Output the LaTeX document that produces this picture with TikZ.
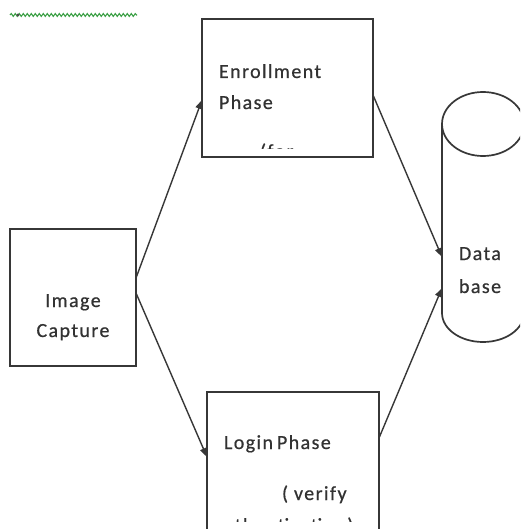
\documentclass[tikz,border=0pt]{standalone}
\usepackage{fontspec}
\newfontfamily\carl[LetterSpace=7,FakeBold=0.6]{Carlito}
\usetikzlibrary{arrows.meta,calc,decorations.pathmorphing}
\definecolor{linegray}{RGB}{55,55,55}
\definecolor{textgray}{RGB}{50,50,50}
\definecolor{squig}{RGB}{60,160,70}
\tikzset{
  boxnode/.style={draw=linegray, line width=1.7pt, rectangle, inner sep=0pt, outer sep=0pt},
  cylline/.style={draw=linegray, line width=1.7pt},
  arr/.style={draw=linegray, line width=1.4pt, -{Triangle[length=9pt,width=7pt]}},
  txt/.style={font=\carl\fontsize{20}{24}\selectfont, text=textgray, inner sep=0pt, outer sep=0pt},
}
\begin{document}
\begin{tikzpicture}[x=1pt,y=-1pt]
\useasboundingbox (0,0) rectangle (520,529);
\clip (0,0) rectangle (520,529);
\fill[white] (0,0) rectangle (520,529);
% spelling squiggle
\draw[squig, line width=1.1pt, decorate, decoration={snake, amplitude=1.4pt, segment length=4pt}] (10,15) -- (137,15);
\fill[black!70] (18,15) circle[radius=1.6pt];
% boxes
\node[boxnode, minimum width=126pt, minimum height=137pt] (cap) at (73,297.5) {};
\node[boxnode, minimum width=171pt, minimum height=138pt] (enr) at (287.5,88) {};
\node[boxnode, minimum width=172pt, minimum height=150pt] (log) at (293,467) {};
% database cylinder
\node[rectangle, inner sep=0pt, outer sep=0pt, minimum width=82pt, minimum height=189pt] (db) at (483,218.5) {};
\draw[cylline] (db.north west) -- (db.south west);
\draw[cylline] (db.north east) -- (db.south east);
\draw[cylline] (db.north) ellipse [x radius=41pt, y radius=32pt];
\draw[cylline] (db.south west) arc[start angle=180, end angle=360, x radius=41pt, y radius=29pt];
% texts
\node[txt, anchor=base] (t1) at (73,307) {Image};
\node[txt, anchor=base] (t2) at (73,337) {Capture};
\node[txt, anchor=base west] (t3) at (219,78) {Enrollment};
\node[txt, anchor=base west] (t4) at (219,109) {Phase};
\node[txt, anchor=base west] (t5) at (459,260) {Data};
\node[txt, anchor=base west] (t6) at (459,293) {base};
\node[txt, anchor=base west] (t7) at (224,449) {Login\kern-2pt\ Phase};
\node[txt, anchor=base west] (t8) at (282,500) {( verify};
\begin{scope}
\clip (204,20) rectangle (372,149);
\node[txt, anchor=base west] (t9) at (260,158) {(for};
\end{scope}
\begin{scope}
\clip (208,393) rectangle (378,521);
\node[txt, anchor=base west] (t10) at (212,532) {authentication)};
\end{scope}
% connectors
\draw[arr] ([yshift=-49pt]cap.north east) -- ([yshift=-81pt]enr.north west);
\draw[arr] ([yshift=-64pt]cap.north east) -- ([yshift=-65pt]log.north west);
\draw[arr] ([yshift=-76pt]enr.north east) -- ([yshift=-133pt]db.north west);
\draw[arr] ([yshift=-46pt]log.north east) -- ([yshift=-164pt]db.north west);
\end{tikzpicture}
\end{document}
